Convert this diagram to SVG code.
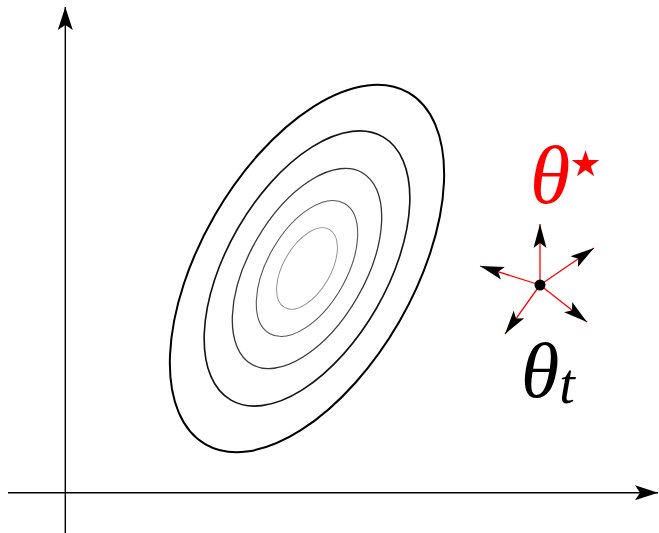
<svg xmlns="http://www.w3.org/2000/svg" width="659" height="533" viewBox="0 0 659 533">
<style>
.ax{stroke:#000;stroke-width:1.4;fill:none}
.ct{fill:none}
.grad{stroke:#ff0000;stroke-width:1.3;fill:none}
.lbl{font-family:"Liberation Serif","DejaVu Serif",serif;font-style:italic}
.sup{font-family:"DejaVu Sans",sans-serif;font-style:normal}
</style>
<defs>
<marker id="ah" markerUnits="userSpaceOnUse" markerWidth="30" markerHeight="20" viewBox="-25 -10 30 20" refX="0" refY="0" orient="auto">
<path d="M0,0 L-23,-7.5 L-18,0 L-23,7.5 Z" fill="#000"/>
</marker>
<marker id="sh" markerUnits="userSpaceOnUse" markerWidth="30" markerHeight="20" viewBox="-25 -10 30 20" refX="0" refY="0" orient="auto">
<path d="M0,0 L-24,-6.5 L-19,0 L-24,6.5 Z" fill="#000"/>
</marker>
</defs>
<g id="connectors">
<line class="ax" x1="65.3" y1="533" x2="65.3" y2="7" marker-end="url(#ah)"/>
<line class="ax" x1="8" y1="492.7" x2="658" y2="492.7" marker-end="url(#ah)"/>
<g id="gradients">
<line class="grad" x1="540" y1="285" x2="540" y2="224" marker-end="url(#sh)"/>
<line class="grad" x1="540" y1="285" x2="594" y2="248" marker-end="url(#sh)"/>
<line class="grad" x1="540" y1="285" x2="480" y2="266" marker-end="url(#sh)"/>
<line class="grad" x1="540" y1="285" x2="587" y2="322" marker-end="url(#sh)"/>
<line class="grad" x1="540" y1="285" x2="505" y2="334" marker-end="url(#sh)"/>
</g>
</g>
<g id="contours" transform="translate(307,268.5) rotate(-60)">
<ellipse class="ct" rx="203" ry="106.5" stroke="#000" stroke-width="2"/>
<ellipse class="ct" rx="152" ry="80" stroke="#111" stroke-width="1.6"/>
<ellipse class="ct" rx="110.6" ry="58" stroke="#333" stroke-width="1.3"/>
<ellipse class="ct" rx="75" ry="39.4" stroke="#555" stroke-width="1.1"/>
<ellipse class="ct" rx="45" ry="23.6" stroke="#888" stroke-width="0.9"/>
</g>
<g id="theta-t-point">
<circle cx="540" cy="285" r="5.5" fill="#000"/>
</g>
<g id="theta-star-label">
<text class="lbl" x="530" y="203" font-size="82" fill="#ff0000">θ<tspan class="sup" x="563" y="187" font-size="72">⋆</tspan></text>
</g>
<g id="theta-t-label">
<text class="lbl" x="521" y="397" font-size="78" fill="#000">θ<tspan font-size="56" dy="6">t</tspan></text>
</g>
</svg>
